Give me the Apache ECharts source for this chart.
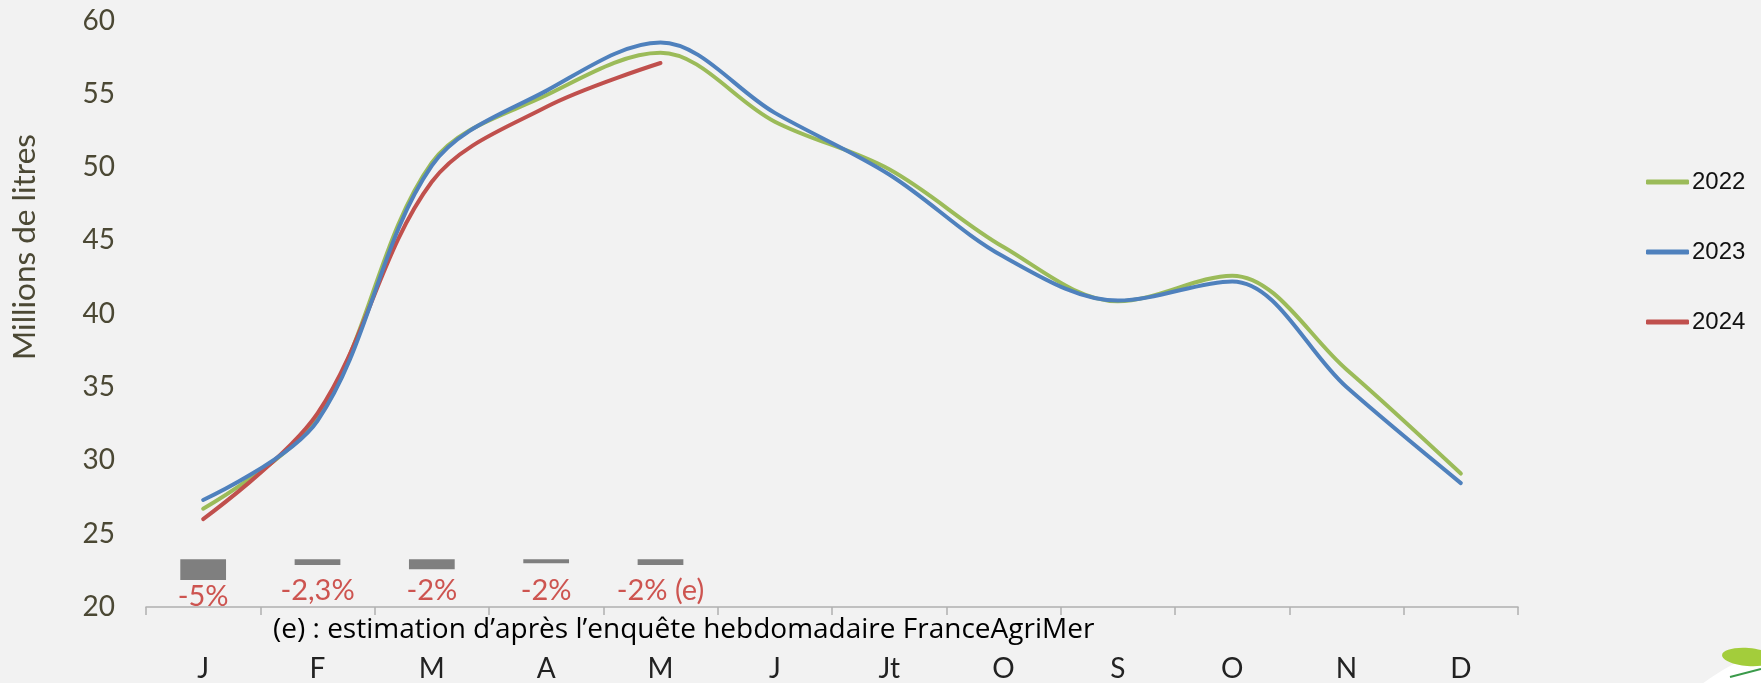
<!DOCTYPE html>
<html>
<head>
<meta charset="utf-8">
<script src="https://cdn.jsdelivr.net/npm/echarts@6/dist/echarts.min.js"></script>
<style>
  html, body { margin: 0; padding: 0; background: #f2f2f2; }
  #chart { width: 1761px; height: 683px; }
</style>
</head>
<body>
<div id="chart"></div>
<script>
// ---- data ----
const months = ['J', 'F', 'M', 'A', 'M', 'J', 'Jt', 'O', 'S', 'O', 'N', 'D'];
const seriesNames = ['2022', '2023', '2024'];
const values2022 = [26.7, 32.9, 50.3, 54.9, 57.8, 53.1, 49.85, 44.55, 40.85, 42.6, 36.2, 29.1];
const values2023 = [27.3, 32.7, 50.1, 55.2, 58.5, 53.7, 49.5, 43.9, 40.9, 42.2, 35.0, 28.45];
const values2024 = [26.0, 33.2, 49.0, 54.1, 57.1];
// evolution bars (top / bottom of each grey bar, in axis units) and their labels
const changeTop = [23.26, 23.26, 23.26, 23.26, 23.26];
const changeBottom = [21.84, 22.86, 22.58, 22.99, 22.86];
const changeLabels = ['-5%', '-2,3%', '-2%', '-2%', '-2% (e)'];
const yTicks = { min: 20, max: 60, interval: 5 };
const yAxisTitle = 'Millions de litres';
const footnote = '(e) : estimation d\u2019apr\u00e8s l\u2019enqu\u00eate hebdomadaire FranceAgriMer';

const colors = ['#9bbb59', '#4f81bd', '#c0504d'];
const olive = '#4b4834';
const labelFont = 'Lato';

const chart = echarts.init(document.getElementById('chart'), null, { renderer: 'canvas' });

const barData = changeTop.map((t, i) => [i, t, changeBottom[i]]);

const lineSeries = [values2022, values2023, values2024].map((vals, k) => ({
  name: seriesNames[k],
  type: 'line',
  data: vals,
  smooth: 0.34,
  showSymbol: false,
  symbol: 'none',
  lineStyle: { width: 4, color: colors[k], cap: 'round', join: 'round' },
  itemStyle: { color: colors[k] },
  z: 3 + (k === 1 ? 1 : 0)
}));

const option = {
  backgroundColor: '#f2f2f2',
  animation: false,
  grid: { left: 146, right: 243, top: 20.5, bottom: 74, containLabel: false },
  legend: {
    orient: 'vertical',
    left: 1646,
    top: 170,
    padding: 0,
    itemWidth: 43,
    itemHeight: 5,
    itemGap: 46,
    icon: 'roundRect',
    data: seriesNames,
    textStyle: { fontFamily: 'Liberation Sans', fontSize: 24, lineHeight: 24, color: '#111', padding: [0, 0, 0, -2] }
  },
  xAxis: {
    type: 'category',
    data: months,
    boundaryGap: true,
    axisLine: { lineStyle: { color: '#b0b0b0', width: 1.5 } },
    axisTick: { show: true, length: 8, lineStyle: { color: '#b0b0b0', width: 1.5 } },
    axisLabel: { margin: 48, fontFamily: labelFont, fontSize: 28, color: '#222' },
    splitLine: { show: false }
  },
  yAxis: {
    type: 'value',
    min: yTicks.min,
    max: yTicks.max,
    interval: yTicks.interval,
    axisLine: { show: false },
    axisTick: { show: false },
    splitLine: { show: false },
    axisLabel: { margin: 31, fontFamily: labelFont, fontSize: 28, color: olive }
  },
  series: [
    {
      type: 'custom',
      name: 'evolution',
      data: barData,
      z: 2,
      renderItem: function (params, api) {
        const i = api.value(0);
        const top = api.coord([i, api.value(1)]);
        const bot = api.coord([i, api.value(2)]);
        const base = api.coord([i, yTicks.min]);
        const w = api.size([1, 0])[0] * 0.4;
        const labelTop = Math.max(bot[1] + 2, base[1] - 31);
        return {
          type: 'group',
          children: [
            { type: 'rect', shape: { x: top[0] - w / 2, y: top[1], width: w, height: bot[1] - top[1] },
              style: { fill: '#7f7f7f' } },
            { type: 'text', x: top[0], y: labelTop,
              style: { text: changeLabels[i], align: 'center', verticalAlign: 'top',
                       fill: '#cd5450', fontFamily: labelFont, fontSize: 29 } }
          ]
        };
      }
    }
  ].concat(lineSeries),
  graphic: [
    { type: 'text', x: 25, y: 247, rotation: Math.PI / 2,
      style: { text: yAxisTitle, align: 'center', verticalAlign: 'middle',
               fill: olive, fontFamily: labelFont, fontSize: 31.5 } },
    { type: 'text', left: 273, top: 616,
      style: { text: footnote, fill: '#000', fontFamily: 'Open Sans', fontSize: 28 } },
    { type: 'ellipse', x: 1800, y: 708, rotation: 0.3, z: 10,
      shape: { cx: 0, cy: 0, rx: 140, ry: 66 }, style: { fill: '#ffffff', stroke: 'none' } },
    { type: 'ellipse', x: 1748, y: 657, rotation: -0.08, z: 11,
      shape: { cx: 0, cy: 0, rx: 26, ry: 9 }, style: { fill: '#a3cd3b' } },
    { type: 'line', z: 11, shape: { x1: 1730, y1: 677, x2: 1761, y2: 669 },
      style: { stroke: '#3a9a4a', lineWidth: 2 } }
  ]
};

chart.setOption(option);
</script>
</body>
</html>
